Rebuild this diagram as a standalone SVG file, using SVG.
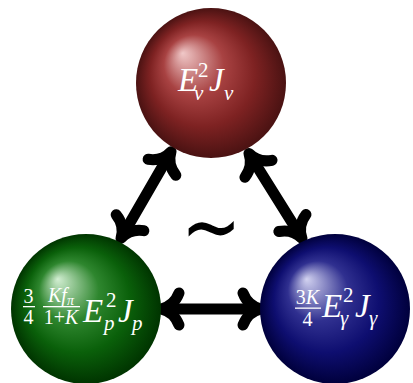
<svg xmlns="http://www.w3.org/2000/svg" xmlns:xlink="http://www.w3.org/1999/xlink" width="413" height="383" viewBox="0 0 413 383">
<style>
.m{font-family:"Liberation Serif","Times New Roman",serif;fill:#ffffff;}
.i{font-style:italic;}
.big{font-size:33px;}
.sup{font-size:21px;}
.fr{font-size:20px;}
.ah{fill:none;stroke:#000;stroke-width:11;stroke-linecap:round;stroke-linejoin:round;}
</style>
<defs>
<radialGradient id="gr" cx="50%" cy="50%" r="50%" fx="31%" fy="30%">
<stop offset="0" stop-color="#f0c8c8"/>
<stop offset="0.4" stop-color="#a84242"/>
<stop offset="0.7" stop-color="#7e2222"/>
<stop offset="1" stop-color="#4a1212"/>
</radialGradient>
<radialGradient id="gg" cx="50%" cy="50%" r="50%" fx="31%" fy="30%">
<stop offset="0" stop-color="#d2eed2"/>
<stop offset="0.4" stop-color="#2e862e"/>
<stop offset="0.7" stop-color="#0a600a"/>
<stop offset="1" stop-color="#003400"/>
</radialGradient>
<radialGradient id="gb" cx="50%" cy="50%" r="50%" fx="31%" fy="30%">
<stop offset="0" stop-color="#d2d2f0"/>
<stop offset="0.4" stop-color="#303090"/>
<stop offset="0.7" stop-color="#0e0e70"/>
<stop offset="1" stop-color="#00003c"/>
</radialGradient>
<g id="arr">
<path class="ah" d="M6 0 H98"/>
<path class="ah" d="M20 -16 Q15 -3 2 0 Q15 3 20 16"/>
<path class="ah" d="M84 -16 Q89 -3 102 0 Q89 3 84 16"/>
</g>
</defs>
<g id="connectors">
<use xlink:href="#arr" transform="translate(159,309)"/>
<use xlink:href="#arr" transform="translate(120,240) rotate(-60)"/>
<use xlink:href="#arr" transform="translate(303,240) rotate(-122)"/>
</g>
<g id="nu">
<circle cx="211" cy="83" r="75" fill="url(#gr)"/>
<text class="m i big" x="178" y="91">E</text>
<text class="m sup" x="198" y="77">2</text>
<text class="m i sup" x="194" y="100">ν</text>
<text class="m i big" x="209" y="91">J</text>
<text class="m i sup" x="224" y="100">ν</text>
</g>
<g id="p">
<circle cx="86" cy="309" r="75" fill="url(#gg)"/>
<text class="m fr" x="28.5" y="303" text-anchor="middle">3</text>
<text class="m fr" x="28.5" y="324" text-anchor="middle">4</text>
<rect x="23" y="306" width="12" height="1.3" fill="#fff"/>
<text class="m fr" x="61" y="302" text-anchor="middle"><tspan class="i">Kf</tspan><tspan class="i" font-size="14" dy="3">π</tspan></text>
<text class="m fr" x="61" y="324" text-anchor="middle">1+<tspan class="i">K</tspan></text>
<rect x="43" y="306" width="37" height="1.3" fill="#fff"/>
<text class="m i big" x="83" y="322">E</text>
<text class="m sup" x="106" y="307">2</text>
<text class="m i sup" x="104" y="330">p</text>
<text class="m i big" x="118" y="322">J</text>
<text class="m i sup" x="132" y="330">p</text>
</g>
<g id="gamma">
<circle cx="335" cy="309" r="75" fill="url(#gb)"/>
<text class="m fr" x="307.5" y="304" text-anchor="middle">3<tspan class="i">K</tspan></text>
<rect x="295" y="307.5" width="26" height="1.3" fill="#fff"/>
<text class="m fr" x="307.5" y="326" text-anchor="middle">4</text>
<text class="m i big" x="322" y="317">E</text>
<text class="m sup" x="343" y="302">2</text>
<text class="m i sup" x="340" y="325">γ</text>
<text class="m i big" x="355" y="317">J</text>
<text class="m i sup" x="369" y="325">γ</text>
</g>
<text transform="translate(211,257) scale(1.2,1.5)" x="0" y="0" text-anchor="middle" font-family="Noto Sans CJK JP,sans-serif" font-weight="300" font-size="60" fill="#000">∼</text>
</svg>
